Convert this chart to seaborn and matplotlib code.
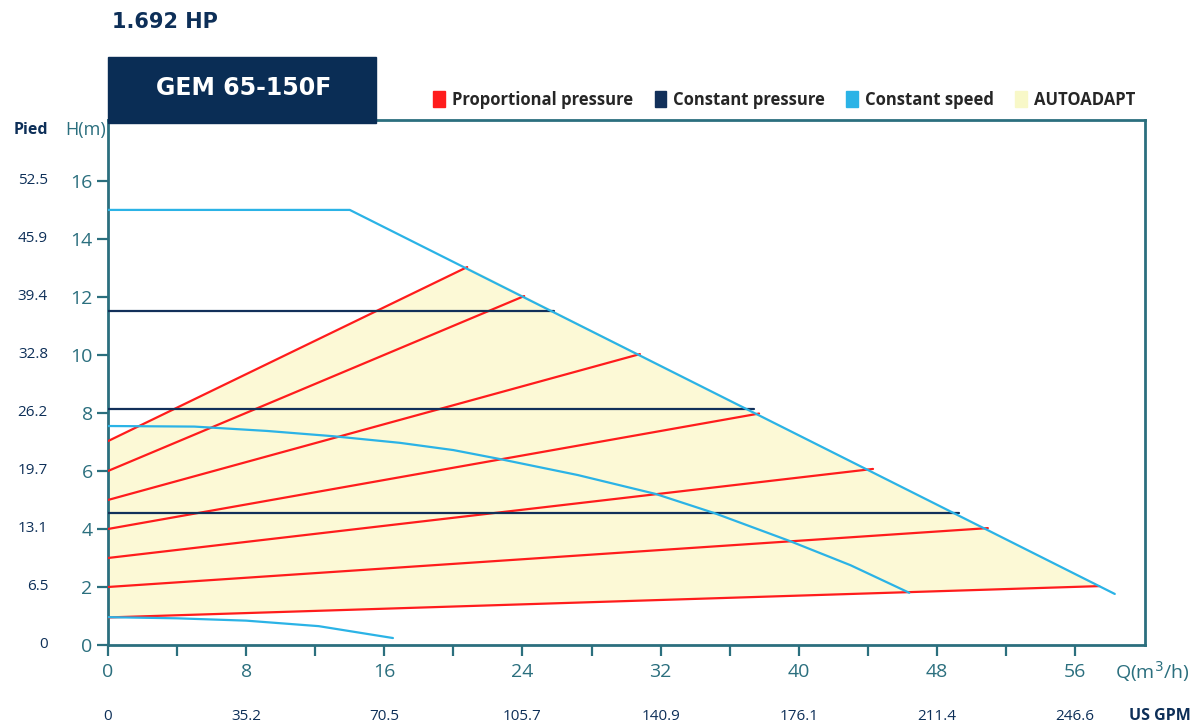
import numpy as np
import pandas as pd
import matplotlib
matplotlib.use("Agg")
import matplotlib.pyplot as plt
from matplotlib.patches import Patch, Rectangle
import seaborn as sns

# --- datos ---
# velocidad constante (curvas azules)
q_cs_max = [0, 14, 58.3]
h_cs_max = [15.0, 15.0, 1.76]
q_cs_mid = [0, 5, 9.2, 13.0, 16.9, 20.0, 22.7, 27.2, 31.7, 35.1, 39.5, 43.0, 46.4]
h_cs_mid = [7.55, 7.53, 7.38, 7.2, 6.97, 6.72, 6.41, 5.86, 5.21, 4.55, 3.58, 2.75, 1.8]
q_cs_min = [0, 4, 8, 12.2, 16.5]
h_cs_min = [0.96, 0.92, 0.84, 0.65, 0.24]

# presion proporcional (rojas): inicio en Q=0, fin sobre la curva maxima
pp_h_start = [0.95, 2.0, 3.0, 4.0, 5.0, 6.0, 7.03]
pp_q_end = [57.4, 50.95, 44.3, 37.7, 30.8, 24.1, 20.8]
pp_h_end = [2.03, 4.03, 6.07, 7.98, 10.03, 12.03, 13.03]

# presion constante (azul oscuro)
cp_h = [11.52, 8.14, 4.55]
cp_q_end = [25.8, 37.4, 49.3]

# ejes
y_ticks = [0, 2, 4, 6, 8, 10, 12, 14, 16]
pied_labels = ["0", "6.5", "13.1", "19.7", "26.2", "32.8", "39.4", "45.9", "52.5"]
x_ticks = [0, 8, 16, 24, 32, 40, 48, 56]
gpm_labels = ["0", "35.2", "70.5", "105.7", "140.9", "176.1", "211.4", "246.6"]

# colores
rojo = "#ff1c1c"
azul_osc = "#12305a"
celeste = "#2bb3e6"
amarillo = "#fcf9d6"
teal = "#2b6f7e"
navy = "#0d2f58"

sns.set_style("white")
plt.rcParams["font.family"] = ["Open Sans", "DejaVu Sans"]

fig = plt.figure(figsize=(11.94, 7.26), dpi=100)
W, H = 1194, 726
ax = fig.add_axes([108 / W, 1 - 645 / H, 1037 / W, 525 / H])

# zona AUTOADAPT
poly_q = [0, pp_q_end[-1], pp_q_end[0], 0]
poly_h = [pp_h_start[-1], pp_h_end[-1], pp_h_end[0], pp_h_start[0]]
ax.fill(poly_q, poly_h, color=amarillo, lw=0, zorder=1)

lw = 1.6
for h0, q1, h1 in zip(pp_h_start, pp_q_end, pp_h_end):
    sns.lineplot(x=[0, q1], y=[h0, h1], ax=ax, color=rojo, lw=lw, zorder=3)

for h, q1 in zip(cp_h, cp_q_end):
    sns.lineplot(x=[0, q1], y=[h, h], ax=ax, color=azul_osc, lw=lw, zorder=3)

for qq, hh in [(q_cs_max, h_cs_max), (q_cs_mid, h_cs_mid), (q_cs_min, h_cs_min)]:
    sns.lineplot(x=qq, y=hh, ax=ax, color=celeste, lw=lw, sort=False,
                 estimator=None, zorder=4)

ax.set_xlim(0, 60.05)
ax.set_ylim(0, 18.1)
ax.set_xlabel("")
ax.set_ylabel("")

for s in ax.spines.values():
    s.set_color(teal)
    s.set_linewidth(2)

ax.set_xticks(x_ticks)
ax.set_xticks([4, 12, 20, 28, 36, 44, 52], minor=True)
ax.set_yticks(y_ticks)
ax.tick_params(axis="both", which="both", direction="out", color=teal,
               width=1.6, length=8, labelcolor=teal, labelsize=14)
ax.tick_params(axis="x", which="both", bottom=True, pad=5)
ax.tick_params(axis="y", left=True, pad=3)

# etiquetas secundarias
ytr = ax.get_yaxis_transform()
for y, lab in zip(y_ticks, pied_labels):
    ax.text(-60 / 1037, y, lab, transform=ytr, ha="right", va="center",
            fontsize=11, color=navy)
xtr = ax.get_xaxis_transform()
for x, lab in zip(x_ticks, gpm_labels):
    ax.text(x, -71 / 525, lab, transform=xtr, ha="center", va="center",
            fontsize=11, color=navy)

fig.text(1160 / W, 1 - 716 / H, "US GPM", ha="center", va="center",
         fontsize=11.5, fontweight="bold", color=navy)
fig.text(1115 / W, 1 - 672 / H, "Q(m$^3$/h)", ha="left", va="center",
         fontsize=14, color=teal)
fig.text(48 / W, 1 - 130 / H, "Pied", ha="right", va="center",
         fontsize=11.5, fontweight="bold", color=navy)
fig.text(106 / W, 1 - 130 / H, "H(m)", ha="right", va="center",
         fontsize=13, color=teal)

# titulo y caja del modelo
fig.text(112 / W, 1 - 22 / H, "1.692 HP", ha="left", va="center",
         fontsize=15, fontweight="bold", color=navy, family="DejaVu Sans")
fig.patches.append(Rectangle((108 / W, 1 - 123 / H), 268 / W, 66 / H,
                             transform=fig.transFigure, color="#0a2d55", zorder=5))
fig.text(244 / W, 1 - 88 / H, "GEM 65-150F", ha="center", va="center",
         fontsize=17, fontweight="bold", color="white", zorder=6,
         family="DejaVu Sans")

# leyenda
handles = [Patch(color=rojo), Patch(color=azul_osc), Patch(color=celeste),
           Patch(color="#f8f8c8")]
labels = ["Proportional pressure", "Constant pressure", "Constant speed", "AUTOADAPT"]
fig.legend(handles, labels, loc="center right", bbox_to_anchor=(1150 / W, 1 - 100 / H),
           ncol=4, frameon=False, handlelength=0.7, handleheight=1.1,
           handletextpad=0.4, columnspacing=1.3,
           prop={"family": ["Open Sans", "DejaVu Sans"],
                 "weight": "bold", "size": 12})

fig.savefig("out.png", dpi=100)
